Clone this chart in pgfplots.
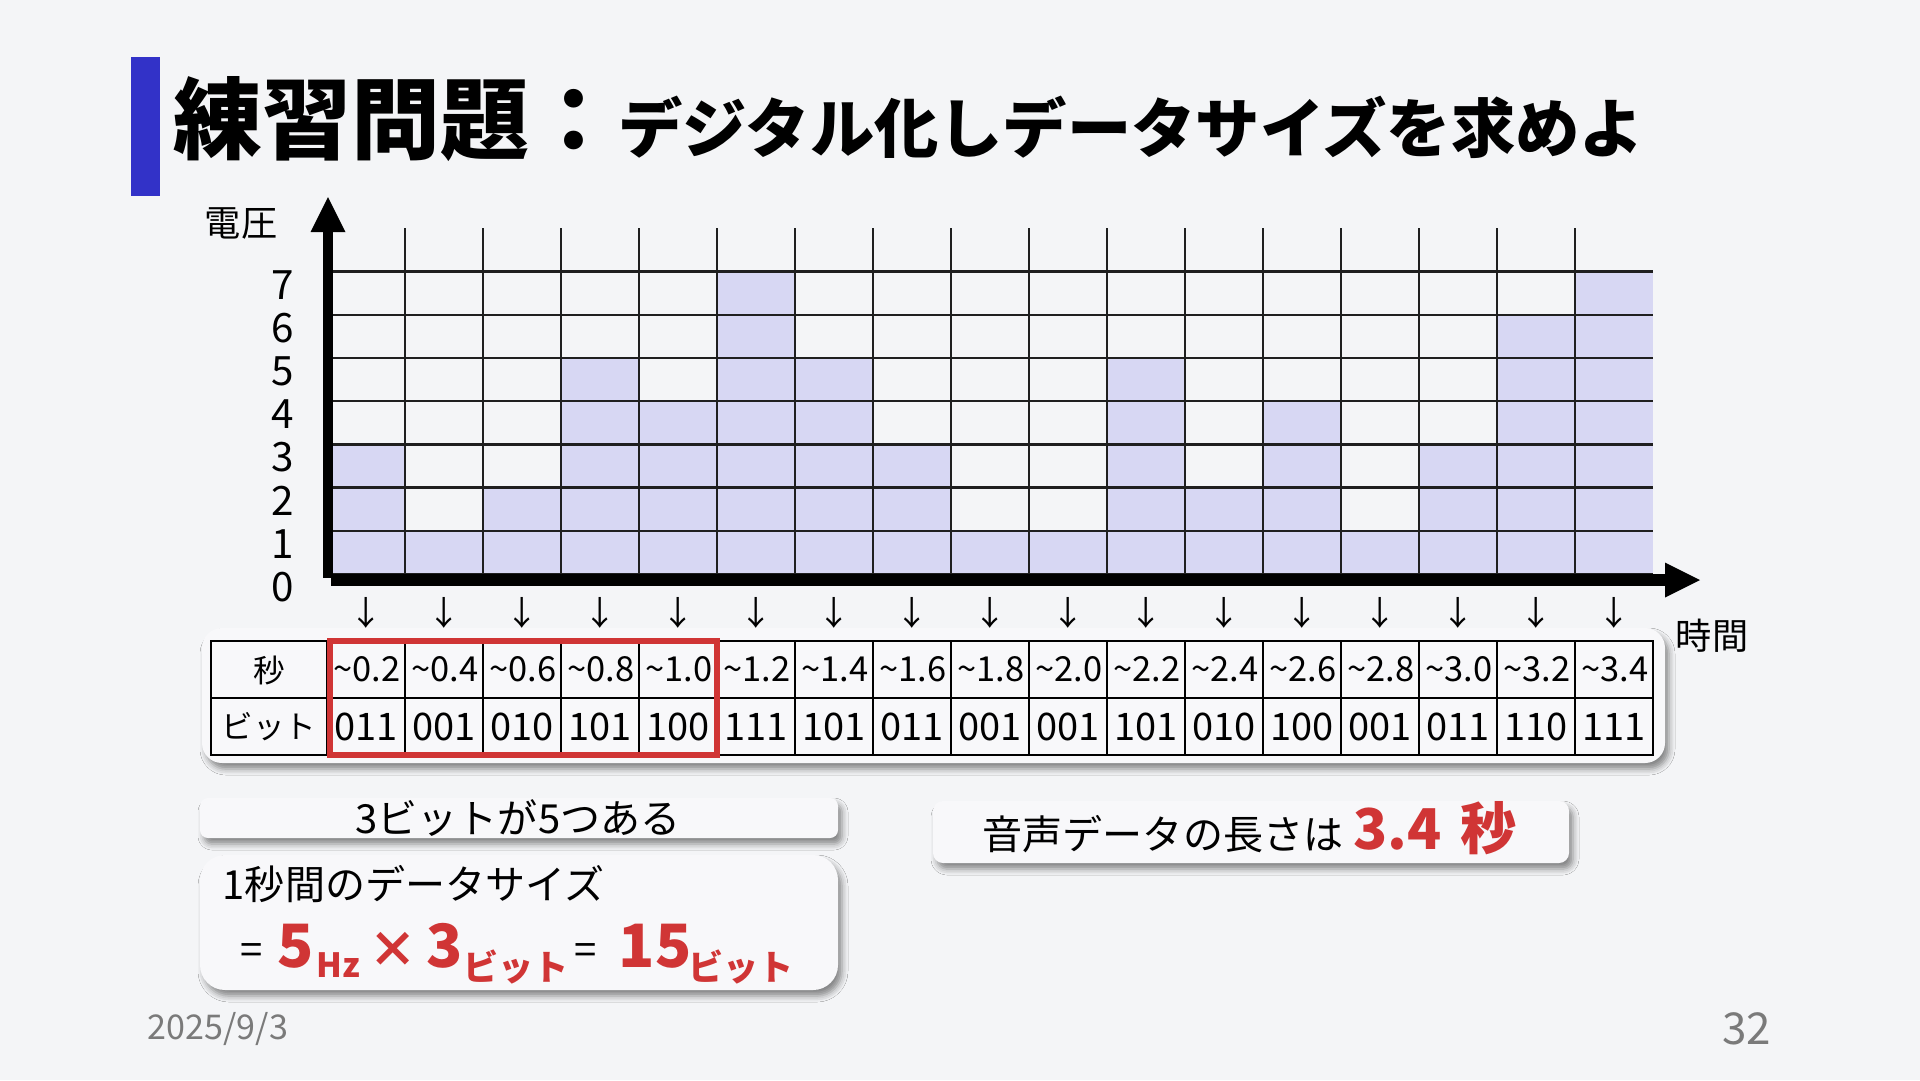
\documentclass[border=0pt]{standalone}
\usepackage{pgfplots}
\pgfplotsset{compat=1.18}
\usepackage{graphicx}
\usepackage{fontspec}
\usetikzlibrary{shadows.blur}
\setmainfont{Noto Sans CJK JP}
\newcommand{\fs}[1]{\fontsize{#1}{#1}\selectfont}
\definecolor{bg}{HTML}{F4F5F7}
\definecolor{lav}{HTML}{D7D7F3}
\definecolor{titleblue}{HTML}{3232C8}
\definecolor{hired}{HTML}{D03535}
\definecolor{boxfill}{HTML}{F8F8FA}
\definecolor{footgrey}{HTML}{7A7A7A}
\tikzset{myshadow/.style={blur shadow={shadow xshift=0.4mm, shadow yshift=-0.6mm, shadow blur radius=0.6mm, shadow opacity=45}}}
\begin{document}
\begin{tikzpicture}
\begin{scope}[x=0.1mm,y=-0.1mm]
\fill[bg] (0,0) rectangle (1920,1080);
\fill[titleblue] (131,57) rectangle (160,196);
\node[anchor=base west, inner sep=0] at (173,152) {\fs{25.3pt}\bfseries 練習問題：\fs{18.3pt}デジタル化しデータサイズを求めよ};
\node[anchor=center, inner sep=0] at (241,223) {\fs{10.3pt}電圧};
\node[anchor=center, inner sep=0] at (1712,636) {\fs{10.3pt}時間};
% table background
\fill[boxfill, rounded corners=2mm, myshadow] (202,628) rectangle (1665,763);
% bottom boxes
\fill[boxfill, rounded corners=0.8mm, myshadow] (200,798) rectangle (838,838);
\fill[boxfill, rounded corners=2.5mm, myshadow] (200,855) rectangle (838,990);
\fill[boxfill, rounded corners=1mm, myshadow] (933,801) rectangle (1569,863);
\node[anchor=center, inner sep=0] at (518,818) {\fs{11.4pt}3ビットが5つある};
\node[anchor=west, inner sep=0] at (222,884) {\fs{11.4pt}1秒間のデータサイズ};
\node[anchor=base west, inner sep=0] at (240,964) {\fs{11.4pt}=};
\node[anchor=base west, inner sep=0, text=hired] at (277,967) {\fs{17pt}\bfseries 5};
\node[anchor=base west, inner sep=0, text=hired] at (316,977) {\fs{9.5pt}\bfseries Hz};
\node[anchor=center, inner sep=0, text=hired] at (393,950) {\fs{14pt}\bfseries ×};
\node[anchor=base west, inner sep=0, text=hired] at (426,967) {\fs{17pt}\bfseries 3};
\node[anchor=base west, inner sep=0, text=hired] at (463,980) {\fs{10pt}\bfseries ビット};
\node[anchor=base west, inner sep=0] at (574,964) {\fs{11.4pt}=};
\node[anchor=base west, inner sep=0, text=hired] at (618,967) {\fs{17pt}\bfseries 15};
\node[anchor=base west, inner sep=0, text=hired] at (688,980) {\fs{10pt}\bfseries ビット};
\node[anchor=west, inner sep=0] at (982,834) {\fs{11.4pt}音声データの長さは};
\node[anchor=base west, inner sep=0, text=hired] at (1353,849) {\fs{16pt}\bfseries 3.4};
\node[anchor=base west, inner sep=0, text=hired] at (1460,849) {\fs{16pt}\bfseries 秒};
% footer
\node[anchor=west, inner sep=0, text=footgrey] at (147,1029) {\fs{9.7pt}2025/9/3};
\node[anchor=east, inner sep=0, text=footgrey] at (1772,1029) {\fs{12.5pt}32};
\end{scope}
\begin{axis}[
  at={(32.7mm,-57.4mm)}, anchor=south west,
  scale only axis, width=132.6mm, height=34.56mm,
  xmin=0, xmax=17, ymin=0, ymax=8, enlargelimits=false,
  axis on top,
  axis line style={draw=none},
  major tick length=0pt,
  xtick={1,...,16}, xticklabels={},
  ytick={0,...,7}, yticklabels={0,1,2,3,4,5,6,7},
  /pgf/number format/assume math mode=true,
  grid=major,
  major grid style={line width=0.7pt, black!88},
  yticklabel style={font=\fs{11.5pt}, anchor=center, xshift=-4.4mm, yshift=-1.3mm},
  extra x ticks={0.5,1.5,...,16.5},
  extra x tick labels={↓,↓,↓,↓,↓,↓,↓,↓,↓,↓,↓,↓,↓,↓,↓,↓,↓},
  extra x tick style={grid=none, major tick length=0pt, xticklabel style={font=\fs{9.5pt}, anchor=center, yshift=-3.9mm}},
]
\addplot[ybar interval, fill=lav, draw=none] coordinates {
(0,3) (1,1) (2,2) (3,5) (4,4) (5,7) (6,5) (7,3) (8,1) (9,1) (10,5) (11,2) (12,4) (13,1) (14,3) (15,6) (16,7) (17,7)};
\end{axis}
\begin{scope}[x=0.1mm,y=-0.1mm]
% axes arrows
\fill[black] (323,578) rectangle (333,230);
\fill[black] (310.5,232) -- (328,197) -- (345.5,232) -- cycle;
\fill[black] (331,574) rectangle (1667,586);
\fill[black] (1665,562.5) -- (1700,580) -- (1665,597.5) -- cycle;
% table
\draw[line width=0.6pt] (211,641) rectangle (1653,755);
\draw[line width=0.6pt] (211,698) -- (1653,698);
\foreach \k in {0,...,16} \draw[line width=0.6pt] ({327+78*\k},641) -- ({327+78*\k},755);
\node[anchor=center, inner sep=0] at (269,670) {\fs{9pt}秒};
\node[anchor=center, inner sep=0] at (269,727) {\fs{9pt}ビット};
\foreach \s [count=\i] in {0.2,0.4,0.6,0.8,1.0,1.2,1.4,1.6,1.8,2.0,2.2,2.4,2.6,2.8,3.0,3.2,3.4}
  \node[anchor=center, inner sep=0] at ({367+78*(\i-1)},669) {\fs{9.8pt}\textasciitilde\s};
\foreach \b [count=\i] in {011,001,010,101,100,111,101,011,001,001,101,010,100,001,011,110,111}
  \node[anchor=center, inner sep=0] at ({366+78*(\i-1)},727) {\fs{10.8pt}\b};
\draw[hired, line width=1.7pt] (330,641) rectangle (717,755);
\end{scope}
\end{tikzpicture}
\end{document}
